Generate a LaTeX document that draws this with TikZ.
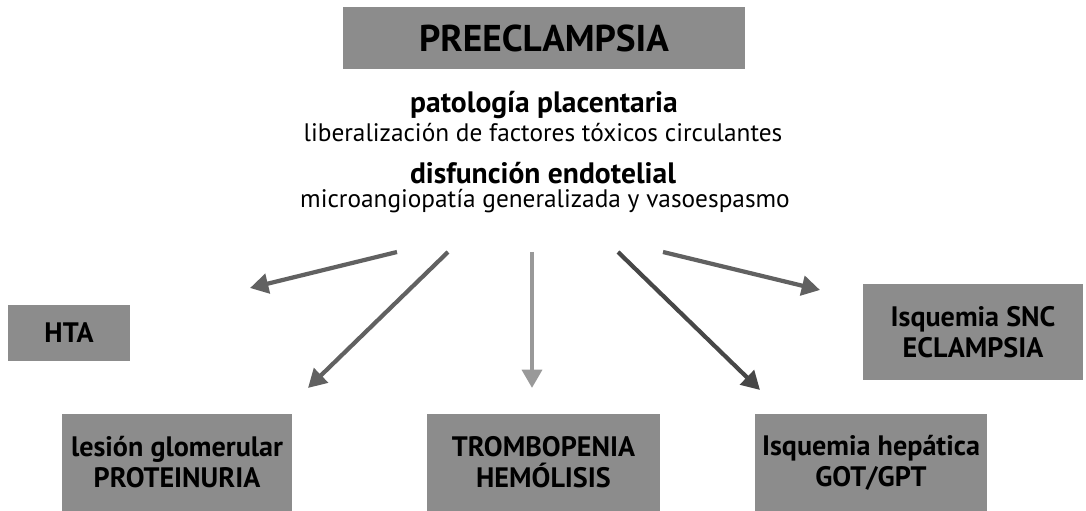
\documentclass[tikz,border=0pt]{standalone}
\usepackage{fontspec}
\setmainfont{PT Sans}
\usetikzlibrary{arrows.meta}

\begin{document}
\begin{tikzpicture}[x=0.025cm,y=-0.025cm,
  caja/.style={fill=black!45,inner sep=0pt,align=center,font=\bfseries\fontsize{20}{22}\selectfont},
  flecha/.style={draw=black!62,line width=3pt,-{Triangle[length=13pt,width=14pt]}}]
\useasboundingbox (0,0) rectangle (1086,511);
\node[caja,minimum width=10.05cm,minimum height=1.525cm,font=\bfseries\fontsize{26.5}{30}\selectfont] (pre) at (544,38) {PREECLAMPSIA};
\node[font=\bfseries\fontsize{21}{24}\selectfont] (pat) at (544,105) {patología placentaria};
\node[font=\fontsize{18}{21}\selectfont] (lib) at (543,133) {liberalización de factores tóxicos circulantes};
\node[font=\bfseries\fontsize{21}{24}\selectfont] (dis) at (543,173) {disfunción endotelial};
\node[font=\fontsize{18}{21}\selectfont] (mic) at (545,201) {microangiopatía generalizada y vasoespasmo};
\node[caja,minimum width=3.05cm,minimum height=1.4cm] (hta) at (69,333) {HTA};
\node[caja,minimum width=5.5cm,minimum height=2.375cm] (snc) at (973,332) {Isquemia SNC\\ECLAMPSIA};
\node[caja,minimum width=5.75cm,minimum height=2.425cm] (les) at (177,462.5) {lesión glomerular\\PROTEINURIA};
\node[caja,minimum width=5.825cm,minimum height=2.425cm] (tro) at (543.5,462.5) {TROMBOPENIA\\HEMÓLISIS};
\node[caja,minimum width=5.8cm,minimum height=2.425cm] (hep) at (871,462.5) {Isquemia hepática\\GOT/GPT};
\coordinate (s1) at (397,252);
\coordinate (s2) at (448,252);
\coordinate (s3) at (532,252);
\coordinate (s4) at (618,252);
\coordinate (s5) at (663,252);
\coordinate (t1) at (250,288);
\coordinate (t2) at (308,388);
\coordinate (t3) at (532,388);
\coordinate (t4) at (760,390);
\coordinate (t5) at (820,290);
\draw[flecha] (s1) -- (t1);
\draw[flecha] (s2) -- (t2);
\draw[flecha,draw=black!40] (s3) -- (t3);
\draw[flecha,draw=black!72] (s4) -- (t4);
\draw[flecha] (s5) -- (t5);
\end{tikzpicture}
\end{document}
